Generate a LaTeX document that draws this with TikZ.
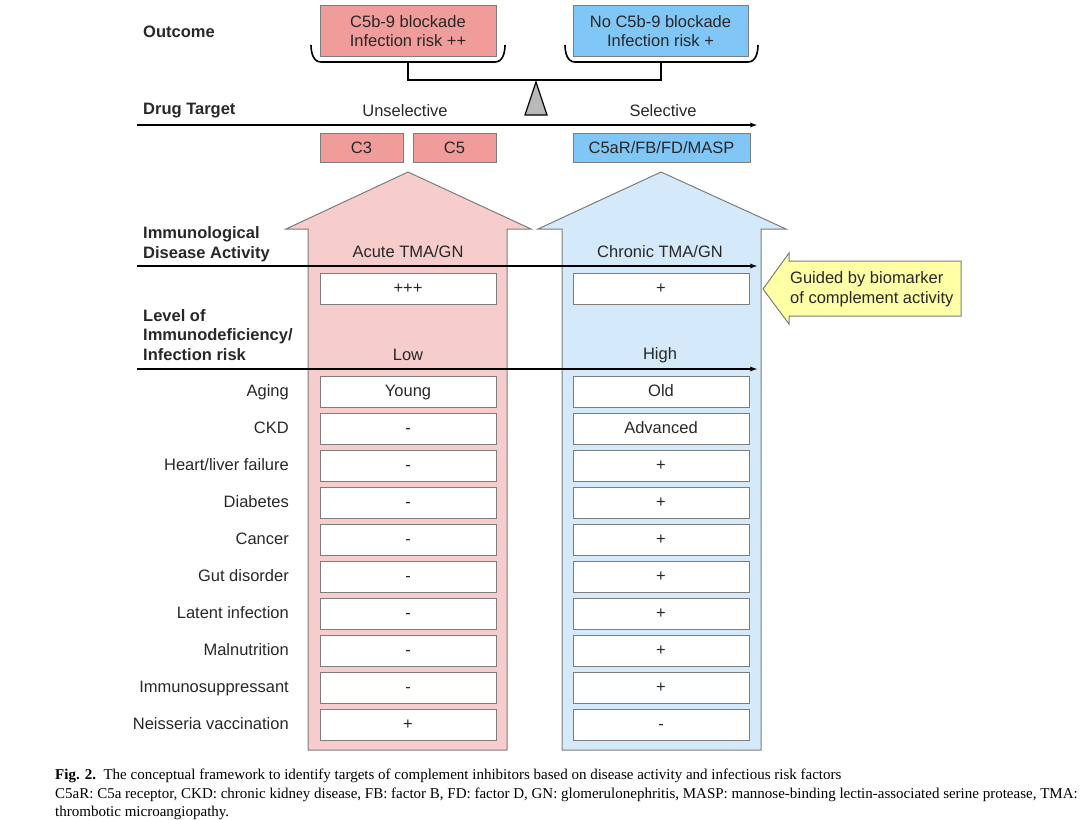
\documentclass[tikz,border=0pt]{standalone}
\usepackage{fontspec}
\setmainfont{Liberation Sans}
\newfontfamily\capfont{Liberation Serif}
\usetikzlibrary{positioning,calc,arrows}

\definecolor{boxred}{RGB}{240,156,154}
\definecolor{arrred}{RGB}{247,204,204}
\definecolor{boxblue}{RGB}{128,198,246}
\definecolor{arrblue}{RGB}{212,233,250}
\definecolor{guideyel}{RGB}{255,255,166}
\definecolor{edgegray}{RGB}{125,125,125}
\definecolor{txt}{RGB}{40,40,40}

\begin{document}
\begin{tikzpicture}[x=1pt,y=-1pt,
	every node/.style={font=\fontsize{16.5}{19.5}\selectfont, text=txt},
	head/.style={font=\fontsize{16.5}{19.5}\selectfont\bfseries, anchor=west, align=left, inner sep=0pt},
	redbox/.style={draw=edgegray, fill=boxred, minimum height=29pt, inner sep=0pt, align=center},
	bluebox/.style={draw=edgegray, fill=boxblue, minimum height=29pt, inner sep=0pt, align=center},
	cellbox/.style={draw=edgegray, fill=white, minimum width=176pt, minimum height=31pt, inner sep=0pt, text height=12pt, text depth=3.5pt},
	rowlab/.style={anchor=east, inner sep=0pt, text height=12pt, text depth=3.5pt},
	axis/.style={draw=black, line width=1.3pt, -latex},
	bigarrow/.style={draw=edgegray, line width=1pt},
	brace/.style={draw=black, line width=1.6pt}]
	\useasboundingbox (0,0) rectangle (1091,819);
	
	% big arrows
	\draw[bigarrow, fill=arrred] (308,750) -- (308,229) -- (286,229) -- (408,172) -- (531,229) -- (507,229) -- (507,750) -- cycle;
	\draw[bigarrow, fill=arrblue] (562,750) -- (562,229) -- (538,229) -- (661,172) -- (786,229) -- (761,229) -- (761,750) -- cycle;
	
	% guide arrow
	\draw[bigarrow, fill=guideyel] (763,289) -- (789,253) -- (789,261) -- (961,261) -- (961,316) -- (789,316) -- (789,324) -- cycle;
	\node[align=left, anchor=west, inner sep=0pt] (guide) at (790,289) {Guided by biomarker\\of complement activity};
	
	% outcome
	\node[head] (outcome) at (143,32) {Outcome};
	\node[redbox, minimum width=176pt, minimum height=51pt] (outred) at (408,31) {C5b-9 blockade\\Infection risk ++};
	\node[bluebox, minimum width=175pt, minimum height=51pt] (outblue) at (660.5,31) {No C5b-9 blockade\\Infection risk +};
	\draw[brace] (311,45) to[out=-90,in=180] (321,62) -- (495,62) to[out=0,in=-90] (505,45);
	\draw[brace] (565,45) to[out=-90,in=180] (575,62) -- (748,62) to[out=0,in=-90] (758,45);
	\draw[brace] (408,62) -- (408,80) -- (661,80) -- (661,62);
	\draw[draw=black, line width=1.2pt, fill=gray!55] (536,82) -- (547,115) -- (525,115) -- cycle;
	
	% drug target
	\node[head] (drug) at (143,111) {Drug Target};
	\node (unsel) at (405,111) {Unselective};
	\node (sel) at (663,111) {Selective};
	\coordinate (dt0) at (137,125);
	\coordinate (dt1) at (757,125);
	\draw[axis] (dt0) -- (dt1);
	\node[redbox, minimum width=83pt] (cthree) at (361.5,147.5) {C3};
	\node[redbox, minimum width=83pt] (cfive) at (454.5,147.5) {C5};
	\node[bluebox, minimum width=177pt] (cfar) at (661.5,147.5) {C5aR/FB/FD/MASP};
	
	% disease activity
	\node[head] (disease) at (143,244) {Immunological\\Disease Activity};
	\node (acute) at (408,252) {Acute TMA/GN};
	\node (chronic) at (660,252) {Chronic TMA/GN};
	\coordinate (da0) at (137,266);
	\coordinate (da1) at (757,266);
	\draw[axis] (da0) -- (da1);
	\node[cellbox] (actlo) at (408,289) {+++};
	\node[cellbox] (acthi) at (661,289) {+};
	
	% immunodeficiency
	\node[head] (level) at (143,335) {Level of\\Immunodeficiency/\\Infection risk};
	\node (low) at (408,355) {Low};
	\node (high) at (660,355) {High};
	\coordinate (lv0) at (137,369);
	\coordinate (lv1) at (757,369);
	\draw[axis] (lv0) -- (lv1);
	
	\foreach \lab/\lo/\hi [count=\i from 0] in {Aging/Young/Old, CKD/-/Advanced, {Heart/liver failure}/-/+, Diabetes/-/+, Cancer/-/+, {Gut disorder}/-/+, {Latent infection}/-/+, Malnutrition/-/+, Immunosuppressant/-/+, {Neisseria vaccination}/+/-}{
		\node[rowlab] (lab\i) at (289,392+37*\i) {\lab};
		\node[cellbox] (lo\i) at (408,392+37*\i) {\lo};
		\node[cellbox] (hi\i) at (661,392+37*\i) {\hi};
	}
	
	% caption
	\node[anchor=north west, align=left, inner sep=0pt, text=black, font=\capfont\fontsize{15}{18.5}\selectfont] (cap) at (55,769) {\textbf{Fig. 2.}\ \ The conceptual framework to identify targets of complement inhibitors based on disease activity and infectious risk factors\\C5aR: C5a receptor, CKD: chronic kidney disease, FB: factor B, FD: factor D, GN: glomerulonephritis, MASP: mannose-binding lectin-associated serine protease, TMA:\\thrombotic microangiopathy.};
\end{tikzpicture}
\end{document}
